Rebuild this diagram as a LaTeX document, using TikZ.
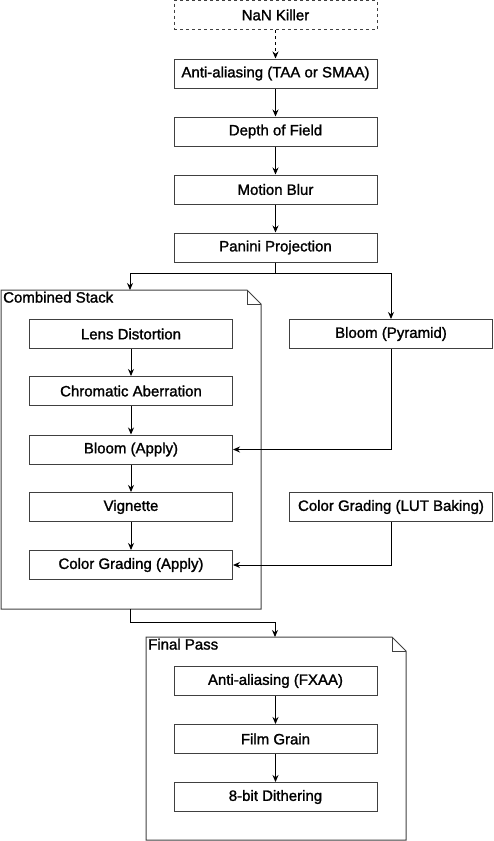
\documentclass[tikz,border=0pt]{standalone}
\usepackage{fontspec}
\setmainfont{Liberation Sans}
\newfontfamily\boxfont[FakeBold=1.4]{Liberation Sans}
\usetikzlibrary{arrows.meta,positioning}

\begin{document}
\begin{tikzpicture}[x=1pt,y=-1pt,
  stepbox/.style={shape=rectangle,draw=black!75,line width=1pt,minimum width=203pt,minimum height=29pt,inner sep=0pt,font=\boxfont\fontsize{15}{17}\selectfont},
  flow/.style={-{Stealth[length=7pt,width=6pt]},line width=1pt},
  folderlabel/.style={anchor=north west,inner sep=0pt,font=\boxfont\fontsize{15}{17}\selectfont}]
\useasboundingbox (0,0) rectangle (493,841);
% main chain
\node[stepbox,dashed] (nan) at (275.5,15) {NaN Killer};
\node[stepbox] (taa) at (275.5,73.5) {Anti-aliasing (TAA or SMAA)};
\node[stepbox] (dof) at (275.5,131.5) {Depth of Field};
\node[stepbox] (mb) at (275.5,189.5) {Motion Blur};
\node[stepbox] (pp) at (275.5,247.5) {Panini Projection};
% combined stack
\draw[draw=black!75,line width=1pt] (1,290) -- (247,290) -- (261,304) -- (261,609) -- (1,609) -- cycle;
\draw[draw=black!75,line width=1pt] (247,290) -- (247,304) -- (261,304);
\coordinate (stacktop) at (130,290);
\coordinate (stackbot) at (130,609);
\node[folderlabel] (stacklabel) at (3,291.5) {Combined Stack};
\node[stepbox] (lens) at (131,334) {Lens Distortion};
\node[stepbox] (ca) at (131,391) {Chromatic Aberration};
\node[stepbox] (bloomA) at (131,449.5) {Bloom (Apply)};
\node[stepbox] (vig) at (131,507) {Vignette};
\node[stepbox] (cgA) at (131,565) {Color Grading (Apply)};
% side passes
\node[stepbox] (bloomP) at (391,334) {Bloom (Pyramid)};
\node[stepbox] (lut) at (391,507) {Color Grading (LUT Baking)};
% final pass
\draw[draw=black!75,line width=1pt] (146,637) -- (392,637) -- (406,651) -- (406,840) -- (146,840) -- cycle;
\draw[draw=black!75,line width=1pt] (392,637) -- (392,651) -- (406,651);
\coordinate (finaltop) at (275,637);
\node[folderlabel] (finallabel) at (148,638.5) {Final Pass};
\node[stepbox] (fxaa) at (275.5,681) {Anti-aliasing (FXAA)};
\node[stepbox] (grain) at (275.5,739) {Film Grain};
\node[stepbox] (dither) at (275.5,797) {8-bit Dithering};
% connectors
\draw[flow,dashed] (nan) -- (taa);
\draw[flow] (taa) -- (dof);
\draw[flow] (dof) -- (mb);
\draw[flow] (mb) -- (pp);
\draw[flow] (pp.south) -- ++(0,11) -| (stacktop);
\draw[flow] (pp.south) -- ++(0,11) -| (bloomP.north);
\draw[flow] (lens) -- (ca);
\draw[flow] (ca) -- (bloomA);
\draw[flow] (bloomA) -- (vig);
\draw[flow] (vig) -- (cgA);
\draw[flow] (bloomP.south) |- (bloomA.east);
\draw[flow] (lut.south) |- (cgA.east);
\draw[flow] (stackbot) -- ++(0,13) -| (finaltop);
\draw[flow] (fxaa) -- (grain);
\draw[flow] (grain) -- (dither);
\end{tikzpicture}
\end{document}
